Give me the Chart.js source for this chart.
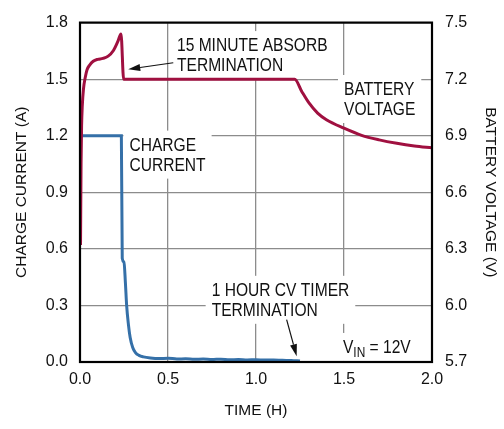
<!DOCTYPE html>
<html>
<head>
<meta charset="utf-8">
<script src="https://cdn.jsdelivr.net/npm/chart.js@4.4.0/dist/chart.umd.min.js"></script>
<style>
  html, body { margin: 0; padding: 0; background: #fff; }
  #wrap { width: 504px; height: 429px; position: relative; }
</style>
</head>
<body>
<div id="wrap"><canvas id="graphCharge"></canvas></div>
<script>
// axis ticks
const timeTicks = [0, 0.5, 1.0, 1.5, 2.0];
const currentTicks = [0, 0.3, 0.6, 0.9, 1.2, 1.5, 1.8];
const voltageTicks = [5.7, 6.0, 6.3, 6.6, 6.9, 7.2, 7.5];

// battery voltage (V) vs time (h)
const voltageTime = [0.003, 0.006, 0.009, 0.013, 0.02, 0.03, 0.04, 0.055, 0.075, 0.1, 0.13, 0.16, 0.19, 0.215, 0.233,
                     0.248, 0.4, 0.7, 1.0, 1.22, 1.26, 1.3, 1.35, 1.4, 1.5, 1.6, 1.7, 1.8, 1.9, 2.0];
const voltageValues = [6.32, 6.75, 6.95, 7.06, 7.15, 7.21, 7.25, 7.275, 7.295, 7.305, 7.31, 7.322, 7.352, 7.40, 7.44,
                       7.2, 7.2, 7.2, 7.2, 7.2, 7.135, 7.075, 7.02, 6.985, 6.94, 6.902, 6.878, 6.86, 6.846, 6.836];

// charge current (A) vs time (h)
const currentTime = [0, 0.235, 0.24, 0.25, 0.258, 0.265, 0.275, 0.285, 0.3, 0.315, 0.335, 0.36, 0.4, 0.45, 0.5,
                     0.55, 0.6, 0.65, 0.7, 0.75, 0.8, 0.85, 0.9, 0.95, 1.0, 1.05, 1.1, 1.15, 1.2, 1.25];
const currentValues = [1.2, 1.2, 0.55, 0.53, 0.42, 0.30, 0.20, 0.13, 0.075, 0.05, 0.035, 0.027, 0.021, 0.018, 0.02,
                       0.016, 0.017, 0.014, 0.016, 0.013, 0.015, 0.012, 0.013, 0.011, 0.012, 0.010, 0.011, 0.009, 0.008, 0.005];

// text notes, anchored in (time, current) units
const notes = [
    { t: 0.551, a: 1.649, lines: [['15 MINUTE ABSORB'], ['TERMINATION']] },
    { t: 1.5, a: 1.416, lines: [['BATTERY'], ['VOLTAGE']] },
    { t: 0.281, a: 1.121, lines: [['CHARGE'], ['CURRENT']] },
    { t: 0.748, a: 0.351, lines: [['1 HOUR CV TIMER'], ['TERMINATION']] },
    { t: 1.494, a: 0.048, lines: [['V', 'IN', ' = 12V']] }
];
const arrows = [
    { from: [0.530, 1.587], to: [0.274, 1.553] },
    { from: [1.174, 0.225], to: [1.231, 0.031] }
];

const tickFont = { family: "'Liberation Sans', Arial, sans-serif", size: 16 };
const titleFont = { family: "'Liberation Sans', Arial, sans-serif", size: 15.5 };
const noteFont = "19px 'Liberation Sans', Arial, sans-serif";
const subFont = "14.5px 'Liberation Sans', Arial, sans-serif";
const squeeze = 0.82;   // narrow look for the notes
const lineGap = 20;

function noteBox(chart, n) {
    const ctx = chart.ctx;
    const x = chart.scales.x.getPixelForValue(n.t);
    const y = chart.scales.y.getPixelForValue(n.a);
    let w = 0;
    n.lines.forEach(line => {
        let lw = 0;
        line.forEach((seg, i) => {
            ctx.font = (line.length > 1 && i === 1) ? subFont : noteFont;
            lw += ctx.measureText(seg).width * squeeze;
        });
        w = Math.max(w, lw);
    });
    const pad = 6;
    return { x: x - pad, y: y - 14 - pad, w: w + 2 * pad, h: 14 + (n.lines.length - 1) * lineGap + 2 * pad + 2 };
}

const notesPlugin = {
    id: 'notes',
    beforeDatasetsDraw(chart) {
        const ctx = chart.ctx;
        ctx.save();
        ctx.fillStyle = '#fff';
        notes.forEach(n => {
            const b = noteBox(chart, n);
            ctx.fillRect(b.x, b.y, b.w, b.h);
        });
        ctx.restore();
    },
    afterDatasetsDraw(chart) {
        const { ctx, chartArea } = chart;
        ctx.save();
        ctx.strokeStyle = '#000';
        ctx.lineWidth = 2.2;
        ctx.strokeRect(chartArea.left, chartArea.top, chartArea.right - chartArea.left, chartArea.bottom - chartArea.top);

        ctx.fillStyle = '#111';
        ctx.textBaseline = 'alphabetic';
        ctx.textAlign = 'left';
        notes.forEach(n => {
            const x0 = chart.scales.x.getPixelForValue(n.t);
            const y0 = chart.scales.y.getPixelForValue(n.a);
            n.lines.forEach((line, li) => {
                let x = x0;
                line.forEach((seg, i) => {
                    const sub = line.length > 1 && i === 1;
                    ctx.font = sub ? subFont : noteFont;
                    ctx.save();
                    ctx.translate(x, y0 + li * lineGap + (sub ? 4 : 0));
                    ctx.scale(squeeze, 1);
                    ctx.fillText(seg, 0, 0);
                    ctx.restore();
                    x += ctx.measureText(seg).width * squeeze;
                });
            });
        });

        arrows.forEach(a => {
            const x1 = chart.scales.x.getPixelForValue(a.from[0]);
            const y1 = chart.scales.y.getPixelForValue(a.from[1]);
            const x2 = chart.scales.x.getPixelForValue(a.to[0]);
            const y2 = chart.scales.y.getPixelForValue(a.to[1]);
            const ang = Math.atan2(y2 - y1, x2 - x1);
            const len = 12, half = 3.5;
            const bx = x2 - len * Math.cos(ang), by = y2 - len * Math.sin(ang);
            ctx.strokeStyle = '#111';
            ctx.lineWidth = 1.2;
            ctx.beginPath();
            ctx.moveTo(x1, y1);
            ctx.lineTo(bx, by);
            ctx.stroke();
            ctx.beginPath();
            ctx.moveTo(x2, y2);
            ctx.lineTo(bx + half * Math.sin(ang), by - half * Math.cos(ang));
            ctx.lineTo(bx - half * Math.sin(ang), by + half * Math.cos(ang));
            ctx.closePath();
            ctx.fill();
        });
        ctx.restore();
    }
};

const gridConfig = { color: '#8c8c8c', lineWidth: 1.3, drawTicks: false };

const chargeGraph = new Chart(document.getElementById('graphCharge'), {
    type: 'line',
    data: {
        datasets: [
            {
                label: 'Battery Voltage',
                data: voltageTime.map((t, i) => ({ x: t, y: voltageValues[i] })),
                yAxisID: 'y2',
                borderColor: '#a01040',
                borderWidth: 3,
                pointRadius: 0,
                cubicInterpolationMode: 'monotone',
                order: 0
            },
            {
                label: 'Charge Current',
                data: currentTime.map((t, i) => ({ x: t, y: currentValues[i] })),
                yAxisID: 'y',
                borderColor: '#3570a8',
                borderWidth: 3,
                pointRadius: 0,
                cubicInterpolationMode: 'monotone',
                order: 1
            }
        ]
    },
    options: {
        responsive: true,
        maintainAspectRatio: false,
        animation: false,
        devicePixelRatio: 1,
        layout: { padding: { top: 10, left: 0, right: 0, bottom: 0 } },
        plugins: {
            legend: { display: false },
            tooltip: { enabled: false }
        },
        scales: {
            x: {
                type: 'linear',
                min: 0,
                max: 2,
                grid: gridConfig,
                border: { display: false },
                afterBuildTicks: s => { s.ticks = timeTicks.map(v => ({ value: v })); },
                afterFit: s => { s.height = 67; },
                ticks: { color: '#111', font: tickFont, padding: 8, maxRotation: 0, callback: v => v.toFixed(1) },
                title: { display: true, text: 'TIME (H)', color: '#111', font: titleFont, padding: { bottom: 9 } }
            },
            y: {
                position: 'left',
                min: 0,
                max: 1.8,
                grid: gridConfig,
                border: { display: false },
                afterBuildTicks: s => { s.ticks = currentTicks.map(v => ({ value: v })); },
                afterFit: s => { s.width = 80; },
                ticks: { color: '#111', font: tickFont, padding: 12, callback: v => v.toFixed(1) },
                title: { display: true, text: 'CHARGE CURRENT (A)', color: '#111', font: titleFont, padding: { top: 12 } }
            },
            y2: {
                position: 'right',
                min: 5.7,
                max: 7.5,
                grid: { display: false, drawTicks: false },
                border: { display: false },
                afterBuildTicks: s => { s.ticks = voltageTicks.map(v => ({ value: v })); },
                afterFit: s => { s.width = 72; },
                ticks: { color: '#111', font: tickFont, padding: 13, callback: v => v.toFixed(1) },
                title: { display: true, text: 'BATTERY VOLTAGE (V)', color: '#111', font: titleFont, padding: { top: 4 } }
            }
        }
    },
    plugins: [notesPlugin]
});
</script>
</body>
</html>
